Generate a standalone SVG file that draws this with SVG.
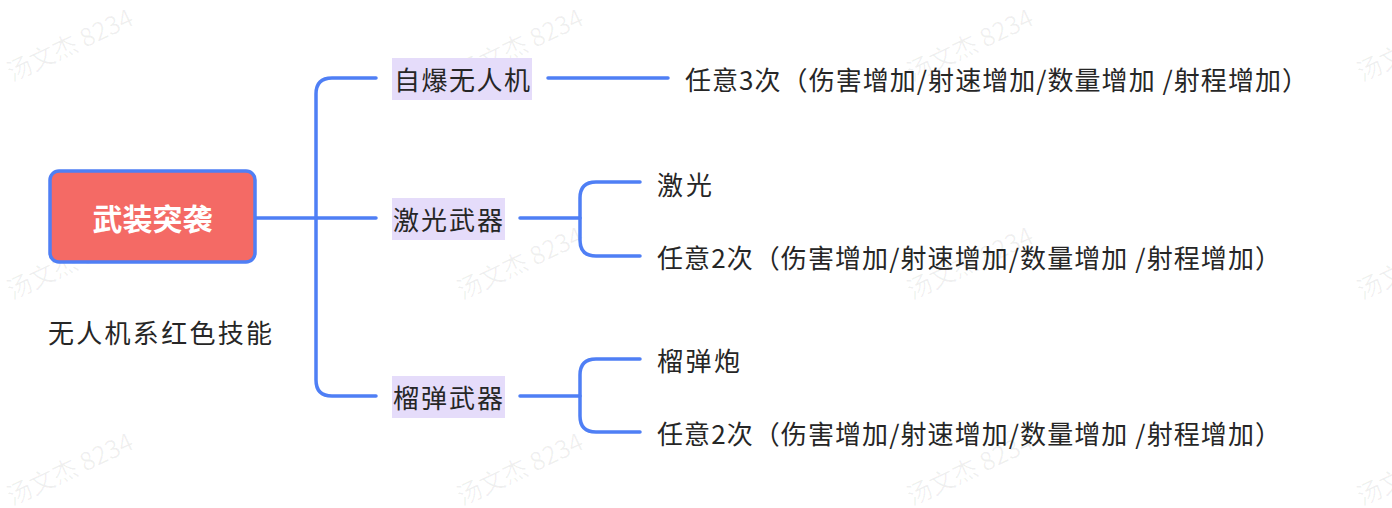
<svg xmlns="http://www.w3.org/2000/svg" width="1392" height="508" viewBox="0 0 1392 508">
<style>
.c{fill:none;stroke:#4F7FF5;stroke-width:3.5;stroke-linecap:round}
.t{font-family:"Noto Sans CJK SC","Noto Sans",sans-serif;font-size:26px;fill:#262626;dominant-baseline:central}
.hl{fill:#E5DCFA}
.wm{font-family:"Noto Sans CJK SC",sans-serif;font-size:25px;fill:#000;fill-opacity:0.06}
</style>
<rect width="1392" height="508" fill="#fff"/>
<g id="watermarks">
<text class="wm" transform="translate(12,82) rotate(-25)">汤文杰 8234</text>
<text class="wm" transform="translate(462,82) rotate(-25)">汤文杰 8234</text>
<text class="wm" transform="translate(912,82) rotate(-25)">汤文杰 8234</text>
<text class="wm" transform="translate(1362,82) rotate(-25)">汤文杰 8234</text>
<text class="wm" transform="translate(12,300) rotate(-25)">汤文杰 8234</text>
<text class="wm" transform="translate(462,300) rotate(-25)">汤文杰 8234</text>
<text class="wm" transform="translate(912,300) rotate(-25)">汤文杰 8234</text>
<text class="wm" transform="translate(1362,300) rotate(-25)">汤文杰 8234</text>
<text class="wm" transform="translate(12,506) rotate(-25)">汤文杰 8234</text>
<text class="wm" transform="translate(462,506) rotate(-25)">汤文杰 8234</text>
<text class="wm" transform="translate(912,506) rotate(-25)">汤文杰 8234</text>
<text class="wm" transform="translate(1362,506) rotate(-25)">汤文杰 8234</text>
</g>
<g id="connectors">
<path class="c" d="M255 218H376"/>
<path class="c" d="M376 78H332Q316 78 316 94V380Q316 396 332 396H376"/>
<path class="c" d="M548 78H668"/>
<path class="c" d="M520 218H580"/>
<path class="c" d="M640 182H596Q580 182 580 198V240Q580 256 596 256H640"/>
<path class="c" d="M520 396H580"/>
<path class="c" d="M640 359H596Q580 359 580 375V416Q580 432 596 432H640"/>
</g>
<g id="root">
<rect x="50" y="171" width="205" height="91" rx="9" fill="#F46A65" stroke="#4F7FF5" stroke-width="3.5"/>
<text class="t" x="152.5" y="217" text-anchor="middle" style="fill:#fff;font-weight:bold;font-size:30px">武装突袭</text>
</g>
<g id="note"><text class="t" x="48" y="331" textLength="224">无人机系红色技能</text></g>
<g id="n1"><rect class="hl" x="392" y="58" width="140" height="42"/><text class="t" x="394" y="78" textLength="136">自爆无人机</text></g>
<g id="n2"><rect class="hl" x="392" y="198" width="113" height="42"/><text class="t" x="393" y="218" textLength="110">激光武器</text></g>
<g id="n3"><rect class="hl" x="392" y="376" width="113" height="42"/><text class="t" x="393" y="396" textLength="110">榴弹武器</text></g>
<g id="n1a"><text class="t" x="685" y="78" textLength="623">任意3次（伤害增加/射速增加/数量增加 /射程增加）</text></g>
<g id="n2a"><text class="t" x="657" y="183" textLength="55">激光</text></g>
<g id="n2b"><text class="t" x="657" y="256" textLength="624">任意2次（伤害增加/射速增加/数量增加 /射程增加）</text></g>
<g id="n3a"><text class="t" x="657" y="359" textLength="83">榴弹炮</text></g>
<g id="n3b"><text class="t" x="657" y="432" textLength="624">任意2次（伤害增加/射速增加/数量增加 /射程增加）</text></g>
</svg>
